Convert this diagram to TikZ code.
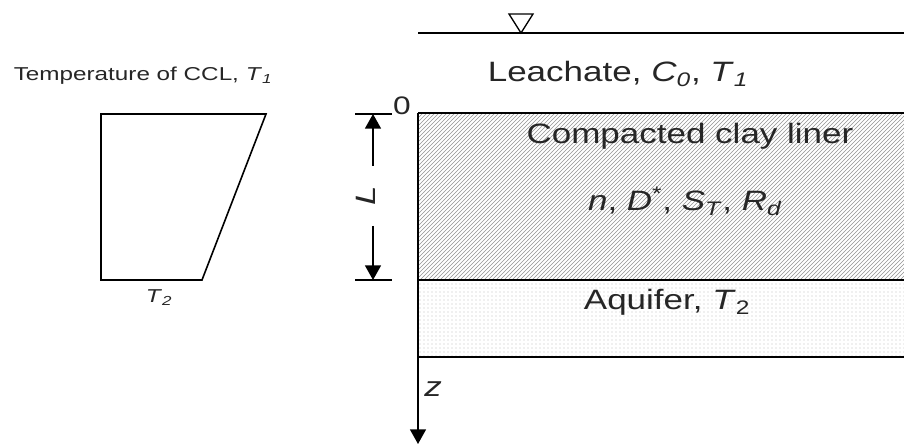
\documentclass[tikz,border=0pt]{standalone}
\usepackage{fontspec}
\setmainfont{Liberation Sans}[FakeStretch=1.25]
\newfontfamily\tempfont{Liberation Sans}[FakeStretch=1.3]
\usetikzlibrary{patterns,arrows.meta}
\begin{document}
\begin{tikzpicture}[x=0.75pt,y=-0.75pt,line width=1.2pt,
  big/.style={font=\fontsize{21}{25}\selectfont,inner sep=0pt,text=black!85},
  small/.style={font=\tempfont\fontsize{14}{17}\selectfont,inner sep=0pt,text=black!85},
  tip/.style={-{Triangle[length=11pt,width=12pt]}}]
\useasboundingbox (0,0) rectangle (904,448);
% layers
\fill[pattern=north east lines,pattern color=gray!85] (418,113) rectangle (904,280);
\fill[pattern=dots,pattern color=gray!50] (418,280) rectangle (904,357);
\coordinate (ccltl) at (418,113);
\coordinate (ccltr) at (904,113);
\coordinate (cclbl) at (418,280);
\coordinate (cclbr) at (904,280);
\coordinate (aqbl) at (418,357);
\coordinate (aqbr) at (904,357);
\coordinate (zend) at (418,444);
\draw (ccltl) -- (ccltr);
\draw (cclbl) -- (cclbr);
\draw (aqbl) -- (aqbr);
\draw[tip] (ccltl) -- (zend);
% water surface
\coordinate (wl) at (418,33);
\coordinate (wr) at (904,33);
\draw (wl) -- (wr);
\coordinate (ta) at (509,14);
\coordinate (tb) at (533,14);
\coordinate (tc) at (521,33);
\draw[line width=1pt,line join=miter] (ta) -- (tb) -- (tc) -- cycle;
% labels
\node[big,anchor=base] (leach) at (618,82) {Leachate, \textit{C}\textsubscript{\textit{0}}, \textit{T}\textsubscript{\textit{1}}};
\node[big,anchor=base] (ccl) at (690,144) {Compacted clay liner};
\node[big,anchor=base] (par) at (685,211) {\textit{n}, \textit{D}\textsuperscript{*}, \textit{S}\textsubscript{\textit{T}}, \textit{R}\textsubscript{\textit{d}}};
\node[big,anchor=base] (aq) at (667,310) {Aquifer, \textit{T}\textsubscript{2}};
\node[big,anchor=base] (z) at (433,397) {\textit{z}};
\node[font=\fontsize{19}{22}\selectfont,inner sep=0pt,anchor=base,text=black!85] (zero) at (402,115) {0};
% dimension L
\coordinate (tt1) at (355,114);
\coordinate (tt2) at (392,114);
\coordinate (bt1) at (355,280);
\coordinate (bt2) at (392,280);
\draw (tt1) -- (tt2);
\draw (bt1) -- (bt2);
\coordinate (au) at (373,166);
\coordinate (aut) at (373,114);
\coordinate (ad) at (373,226);
\coordinate (adt) at (373,280);
\draw[tip] (au) -- (aut);
\draw[tip] (ad) -- (adt);
\node[big,rotate=90] (L) at (366,196) {\textit{L}};
% left temperature profile
\node[small,anchor=base west] (temp) at (13,81) {Temperature of CCL, \textit{T}\textsubscript{\textit{1}}};
\coordinate (p1) at (101,114);
\coordinate (p2) at (266,114);
\coordinate (p3) at (202,280);
\coordinate (p4) at (101,280);
\draw[line join=miter] (p1) -- (p2) -- (p3) -- (p4) -- cycle;
\node[small,anchor=base] (t2) at (159,303) {\textit{T}\textsubscript{\textit{2}}};
\end{tikzpicture}
\end{document}
